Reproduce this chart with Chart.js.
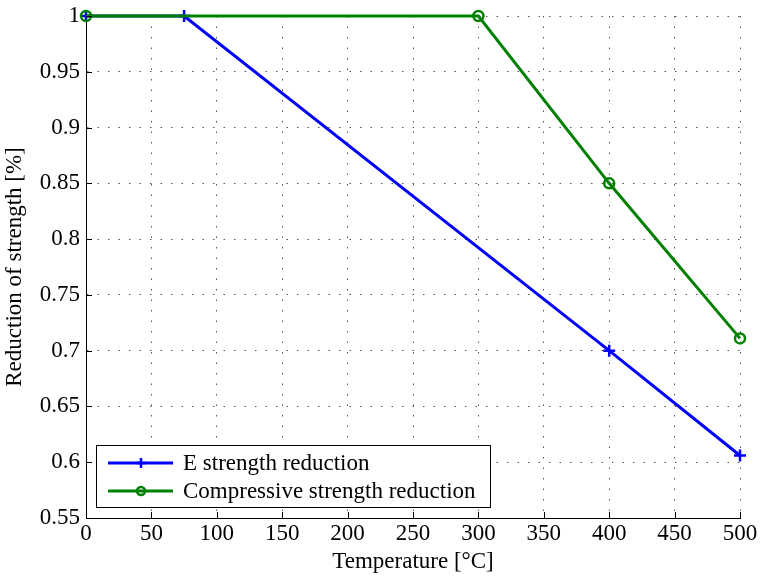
<!DOCTYPE html>
<html lang="en">
<head>
    <meta charset="UTF-8">
    <title>Reduction of strength vs temperature</title>
    <style>
        body { margin: 0; background: #fff; }
        canvas { display: block; }
    </style>
</head>
<body>
    <canvas id="strengthChart" width="760" height="576"></canvas>

    <script src="https://cdn.jsdelivr.net/npm/chart.js"></script>
    <script>
        // data
        const eTemps = [0, 75, 400, 500];
        const eValues = [1, 1, 0.7, 0.606];
        const compTemps = [0, 300, 400, 500];
        const compValues = [1, 1, 0.85, 0.711];
        const xTicks = [0, 50, 100, 150, 200, 250, 300, 350, 400, 450, 500];
        const yTicks = [0.55, 0.6, 0.65, 0.7, 0.75, 0.8, 0.85, 0.9, 0.95, 1];
        const seriesNames = ['E strength reduction', 'Compressive strength reduction'];

        const FONT = '"Liberation Serif", "Times New Roman", serif';
        const FSIZE = 23;

        function toPoints(xs, ys) {
            return xs.map((x, i) => ({ x: x, y: ys[i] }));
        }

        // MATLAB style: ticks pointing into the plot
        const inwardTicks = {
            id: 'inwardTicks',
            afterDatasetsDraw(chart) {
                const { ctx, chartArea, scales } = chart;
                ctx.save();
                ctx.strokeStyle = '#000';
                ctx.lineWidth = 1;
                ctx.beginPath();
                xTicks.forEach(v => {
                    const px = Math.round(scales.x.getPixelForValue(v)) + 0.5;
                    ctx.moveTo(px, chartArea.bottom);
                    ctx.lineTo(px, chartArea.bottom - 6);
                });
                yTicks.forEach(v => {
                    const py = Math.round(scales.y.getPixelForValue(v)) + 0.5;
                    ctx.moveTo(chartArea.left, py);
                    ctx.lineTo(chartArea.left + 6, py);
                });
                ctx.stroke();
                ctx.restore();
            }
        };

        // legend box inside the plot, lower left
        const boxLegend = {
            id: 'boxLegend',
            afterDraw(chart) {
                const ctx = chart.ctx;
                const left = chart.chartArea.left + 10;
                const top = chart.chartArea.bottom - 73;
                const w = 394, h = 62;
                ctx.save();
                ctx.fillStyle = '#fff';
                ctx.fillRect(left, top, w, h);
                ctx.strokeStyle = '#000';
                ctx.lineWidth = 1;
                ctx.strokeRect(left + 0.5, top + 0.5, w, h);

                const rows = [chart.data.datasets[1], chart.data.datasets[0]];
                rows.forEach((ds, i) => {
                    const cy = top + 18 + i * 28;
                    ctx.strokeStyle = ds.borderColor;
                    ctx.lineWidth = 3;
                    ctx.beginPath();
                    ctx.moveTo(left + 12, cy);
                    ctx.lineTo(left + 77, cy);
                    ctx.stroke();
                    ctx.fillStyle = 'rgba(0,0,0,0)';
                    ctx.lineWidth = ds.pointBorderWidth;
                    Chart.helpers.drawPoint(ctx, {
                        pointStyle: ds.pointStyle,
                        radius: ds.pointRadius - 1,
                        borderWidth: ds.pointBorderWidth
                    }, left + 45, cy);
                    ctx.fillStyle = '#000';
                    ctx.font = FSIZE + 'px ' + FONT;
                    ctx.textBaseline = 'middle';
                    ctx.fillText(ds.label, left + 87, cy + 1);
                });
                ctx.restore();
            }
        };

        const axisFont = { family: FONT, size: FSIZE };

        new Chart(document.getElementById('strengthChart').getContext('2d'), {
            type: 'line',
            data: {
                datasets: [
                    {
                        label: seriesNames[1],
                        data: toPoints(compTemps, compValues),
                        borderColor: '#008000',
                        backgroundColor: 'rgba(0,0,0,0)',
                        borderWidth: 3,
                        pointStyle: 'circle',
                        pointRadius: 5,
                        pointBorderWidth: 2.5,
                        pointBorderColor: '#008000',
                        pointBackgroundColor: 'rgba(0,0,0,0)',
                        tension: 0,
                        clip: false,
                        order: 1
                    },
                    {
                        label: seriesNames[0],
                        data: toPoints(eTemps, eValues),
                        borderColor: '#0000ff',
                        backgroundColor: 'rgba(0,0,0,0)',
                        borderWidth: 3,
                        pointStyle: 'cross',
                        pointRadius: 6,
                        pointBorderWidth: 2.5,
                        pointBorderColor: '#0000ff',
                        tension: 0,
                        clip: false,
                        order: 2
                    }
                ]
            },
            options: {
                responsive: false,
                animation: false,
                layout: { padding: { left: 0, top: 16, right: 20, bottom: 0 } },
                plugins: {
                    legend: { display: false },
                    tooltip: { enabled: false }
                },
                scales: {
                    x: {
                        type: 'linear',
                        min: 0,
                        max: 500,
                        afterBuildTicks: s => { s.ticks = xTicks.map(v => ({ value: v })); },
                        afterFit: s => { s.height = 58; s.paddingLeft = 0; s.paddingRight = 0; },
                        ticks: {
                            color: '#000',
                            padding: 2,
                            font: axisFont,
                            callback: v => String(v)
                        },
                        grid: { color: '#555', drawTicks: false, tickLength: 0 },
                        border: { display: true, color: '#000', width: 1, dash: [1.5, 9] },
                        title: {
                            display: true,
                            text: 'Temperature [°C]',
                            color: '#000',
                            font: axisFont,
                            padding: { top: 1, bottom: 0 }
                        }
                    },
                    y: {
                        type: 'linear',
                        min: 0.55,
                        max: 1,
                        afterBuildTicks: s => { s.ticks = yTicks.map(v => ({ value: v })); },
                        afterFit: s => { s.width = 86; s.paddingTop = 0; s.paddingBottom = 0; },
                        ticks: {
                            color: '#000',
                            padding: 6,
                            font: axisFont,
                            callback: v => String(v)
                        },
                        grid: { color: '#555', drawTicks: false, tickLength: 0 },
                        border: { display: true, color: '#000', width: 1, dash: [1.5, 9] },
                        title: {
                            display: true,
                            text: 'Reduction of strength [%]',
                            color: '#000',
                            font: axisFont,
                            padding: { top: 1, bottom: 0 }
                        }
                    }
                }
            },
            plugins: [inwardTicks, boxLegend]
        });
    </script>
</body>
</html>
